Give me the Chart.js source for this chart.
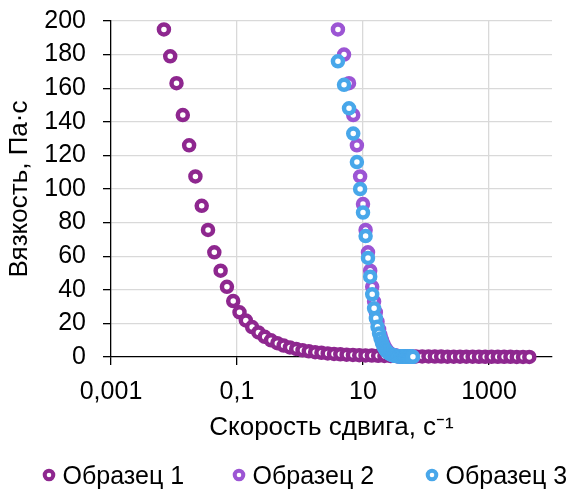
<!DOCTYPE html>
<html>
<head>
<meta charset="utf-8">
<script src="https://cdn.jsdelivr.net/npm/chart.js@4.4.1/dist/chart.umd.min.js"></script>
<style>
  body { margin: 0; background: #fff; }
  #wrap { width: 574px; height: 490px; }
</style>
</head>
<body>
<div id="wrap"><canvas id="myChart" width="574" height="490"></canvas></div>
<script>
// shear rate, 1/s
const rate1 = [
  0.00692, 0.00871, 0.01096, 0.0138, 0.01738, 0.02188, 0.02754, 0.03467, 0.04365, 0.05495,
  0.0692, 0.0871, 0.1096, 0.138, 0.1738, 0.2188, 0.2754, 0.3467, 0.4365, 0.5495,
  0.692, 0.871, 1.096, 1.38, 1.738, 2.188, 2.754, 3.467, 4.365, 5.495,
  6.92, 8.71, 10.96, 13.8, 17.38, 21.88, 27.54, 34.67, 43.65, 54.95,
  69.2, 87.1, 109.6, 138, 173.8, 218.8, 275.4, 346.7, 436.5, 549.5,
  692, 871, 1096, 1380, 1738, 2188, 2754, 3467, 4365
];
const rate23 = [
  4, 5, 6, 7, 8, 9, 10, 11, 12, 13, 14, 15, 16, 17, 18, 19, 20, 21, 22, 23,
  24, 25, 26, 27, 28, 29, 30, 31, 32, 33, 34, 35, 36, 37, 38, 39, 40, 41, 42, 43,
  44, 45, 46, 47, 48, 49, 50, 51, 52, 53, 54, 55, 56, 57, 58, 59, 60, 61, 62
];
// viscosity, Pa*s
const visc1 = [
  195, 179, 163, 144, 126, 107.5, 90, 75.6, 62.3, 51.4, 41.8, 33.3, 26.6, 21.8, 17.8,
  14.6, 12.0, 9.9, 8.2, 6.8, 5.7, 4.8, 4.0, 3.4, 2.9, 2.5, 2.15, 1.85, 1.6, 1.4,
  1.22, 1.07, 0.94, 0.83, 0.73, 0.65, 0.58, 0.52, 0.46, 0.41, 0.37, 0.33, 0.30, 0.27, 0.24,
  0.22, 0.20, 0.18, 0.16, 0.15, 0.13, 0.12, 0.11, 0.10, 0.09, 0.08, 0.07, 0.065, 0.06
];
const visc2 = [
  195, 180, 163, 144, 126, 107.5, 91, 75.6, 62.3, 51.4, 41.8, 33, 26.6, 21, 16.5,
  13, 10.2, 8.0, 6.2, 4.9, 3.9, 3.1, 2.5, 2.0, 1.7, 1.4, 1.2, 1.0, 0.88, 0.78,
  0.7, 0.63, 0.57, 0.52, 0.48, 0.44, 0.41, 0.38, 0.35, 0.33, 0.31, 0.29, 0.27, 0.26, 0.25,
  0.24, 0.23, 0.22, 0.21, 0.2, 0.19, 0.18, 0.175, 0.17, 0.165, 0.16, 0.155, 0.15, 0.145
];
const visc3 = [
  176, 162, 148, 133, 116, 100, 86, 72, 59, 47.8, 37.3, 29, 23, 18, 14,
  11, 8.5, 6.5, 5.0, 4.0, 3.2, 2.6, 2.1, 1.7, 1.4, 1.2, 1.0, 0.85, 0.75, 0.65,
  0.57, 0.5, 0.45, 0.41, 0.37, 0.34, 0.31, 0.29, 0.27, 0.25, 0.23, 0.22, 0.21, 0.2, 0.19,
  0.18, 0.17, 0.16, 0.155, 0.15, 0.145, 0.14, 0.135, 0.13, 0.125, 0.12, 0.115, 0.11, 0.105
];
const seriesNames = ["Образец 1", "Образец 2", "Образец 3"];
const seriesColors = ["#8E278F", "#9C55D4", "#48A7EA"];
const xTicks = [0.001, 0.1, 10, 1000];
const legendX = [49, 239, 432];

const FONT = "'Liberation Sans', Arial, sans-serif";

function points(xs, ys) {
  return xs.map((x, i) => ({ x: x, y: ys[i] }));
}

function series(i, xs, ys) {
  return {
    label: seriesNames[i],
    data: points(xs, ys),
    borderColor: seriesColors[i],
    backgroundColor: "#fff",
    pointRadius: 5,
    pointHoverRadius: 5,
    pointBorderWidth: 4.5,
    pointHoverBorderWidth: 4.5,
    clip: false,
    order: 3 - i,
  };
}

// legend drawn under the plot, one ring + name per series
const seriesLegend = {
  id: "seriesLegend",
  afterDraw(chart) {
    const ctx = chart.ctx;
    ctx.save();
    ctx.font = "25px " + FONT;
    ctx.textBaseline = "alphabetic";
    ctx.textAlign = "left";
    chart.data.datasets.forEach((ds, i) => {
      ctx.beginPath();
      ctx.arc(legendX[i], 475, 4.3, 0, Math.PI * 2);
      ctx.fillStyle = "#fff";
      ctx.fill();
      ctx.lineWidth = 4;
      ctx.strokeStyle = ds.borderColor;
      ctx.stroke();
      ctx.fillStyle = "#000";
      ctx.fillText(ds.label, legendX[i] + 13.5, 484);
    });
    ctx.restore();
  },
};

const config = {
  type: "scatter",
  data: {
    datasets: [
      series(0, rate1, visc1),
      series(1, rate23, visc2),
      series(2, rate23, visc3),
    ],
  },
  options: {
    responsive: false,
    animation: false,
    devicePixelRatio: 1,
    layout: { padding: { top: 21, right: 22, bottom: 43, left: 0 } },
    plugins: {
      legend: { display: false },
      tooltip: { enabled: false },
    },
    scales: {
      x: {
        type: "logarithmic",
        min: 0.001,
        max: 10000,
        afterBuildTicks: (scale) => {
          scale.ticks = xTicks.map((v) => ({ value: v }));
        },
        afterFit: (scale) => {
          scale.height = 90;
        },
        ticks: {
          font: { family: FONT, size: 25 },
          color: "#000",
          padding: 12,
          maxRotation: 0,
          autoSkip: false,
          callback: (v) => String(v).replace(".", ","),
        },
        grid: {
          color: (c) => (c.tick && c.tick.value === 0.001 ? "rgba(0,0,0,0)" : "#d9d9d9"),
          lineWidth: 1.3,
          tickColor: "#000",
          tickLength: 8,
        },
        border: { color: "#000", width: 1.3 },
        title: {
          display: true,
          text: "Скорость сдвига, с⁻¹",
          font: { family: FONT, size: 26 },
          color: "#000",
          padding: { top: 0, bottom: 4 },
        },
      },
      y: {
        min: 0,
        max: 200,
        afterFit: (scale) => {
          scale.width = 111;
          scale.paddingTop = 10;
          scale.paddingBottom = 10;
        },
        ticks: {
          stepSize: 20,
          autoSkip: false,
          font: { family: FONT, size: 25 },
          color: "#000",
          padding: 17,
        },
        grid: {
          color: (c) => (c.tick && c.tick.value === 0 ? "rgba(0,0,0,0)" : "#d9d9d9"),
          lineWidth: 1.3,
          tickColor: "#000",
          tickLength: 8,
        },
        border: { color: "#000", width: 1.3 },
        title: {
          display: true,
          text: "Вязкость, Па·с",
          font: { family: FONT, size: 26 },
          color: "#000",
          padding: { top: 4, bottom: 0 },
        },
      },
    },
  },
  plugins: [seriesLegend],
};

const myChart = new Chart(document.getElementById("myChart"), config);
</script>
</body>
</html>
